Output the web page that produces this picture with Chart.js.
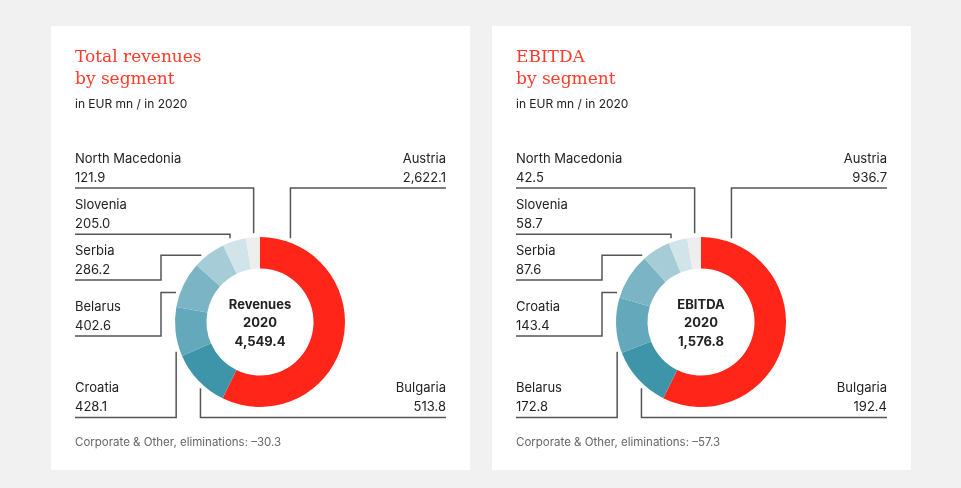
<!DOCTYPE html>
<html>
<head>
<meta charset="utf-8">
<script src="https://cdn.jsdelivr.net/npm/chart.js@4.4.1/dist/chart.umd.min.js"></script>
<style>
    html, body { margin: 0; padding: 0; }
    body { width: 961px; height: 488px; background: #f1f1f1; position: relative; overflow: hidden; font-family: Inter, "DejaVu Sans", sans-serif; color: #222; }
    .panel { position: absolute; top: 26px; width: 419px; height: 444px; background: #fff; }
    .panel canvas { position: absolute; left: 0; top: 0; }
    .title { position: absolute; left: 24px; top: 19px; font-family: "DejaVu Serif", serif; font-size: 17px; line-height: 22px; color: #ff3b2b; }
    .subtitle { position: absolute; left: 24px; top: 72px; font-size: 12px; line-height: 12px; }
    .label { position: absolute; font-size: 13px; line-height: 19px; white-space: nowrap; }
    .label.left { left: 24px; }
    .label.right { right: 24px; text-align: right; }
    .center { position: absolute; width: 120px; text-align: center; font-size: 13px; font-weight: 700; line-height: 18.5px; }
    .footer { position: absolute; left: 24px; top: 410px; font-size: 11.5px; line-height: 12px; color: #666; }
</style>
</head>
<body>
<div class="panel" id="revenue-panel" style="left:51px"></div>
<div class="panel" id="ebitda-panel" style="left:492px"></div>
<script>
document.addEventListener("DOMContentLoaded", () => {
    const revenueNames = ["Austria", "Bulgaria", "Croatia", "Belarus", "Serbia", "Slovenia", "North Macedonia"];
    const revenueValues = [2622.1, 513.8, 428.1, 402.6, 286.2, 205.0, 121.9];
    const revenueTotal = 4549.4;
    const revenueOther = -30.3;

    const ebitdaNames = ["Austria", "Bulgaria", "Belarus", "Croatia", "Serbia", "Slovenia", "North Macedonia"];
    const ebitdaValues = [936.7, 192.4, 172.8, 143.4, 87.6, 58.7, 42.5];
    const ebitdaTotal = 1576.8;
    const ebitdaOther = -57.3;

    const segmentColors = ["#ff2519", "#3e95aa", "#63a8bb", "#7bb4c5", "#a6ccd7", "#d1e4ea", "#eeeeee"];

    // where each segment's label sits (panel px) and how its leader reaches the ring
    const slots = [
        { side: "right", y: 137, angle: 20, path: "v" },
        { side: "right", y: 366.5, angle: 222, path: "v" },
        { side: "left", y: 366.5, angle: 250.4, path: "v" },
        { side: "left", y: 285, angle: 289.3, path: "hv", elbow: 110 },
        { side: "left", y: 229, angle: 318.7, path: "hv", elbow: 110 },
        { side: "left", y: 183.3, angle: 340.3, path: "v" },
        { side: "left", y: 137, angle: 355.9, path: "v" }
    ];

    const fmt = v => v.toLocaleString("en-US", { minimumFractionDigits: 1, maximumFractionDigits: 1 });

    const leaderLines = {
        id: "leaderLines",
        afterDraw(chart) {
            const arc = chart.getDatasetMeta(0).data[0];
            const r = arc.outerRadius + 4;
            const ctx = chart.ctx;
            ctx.save();
            ctx.strokeStyle = "#555";
            ctx.lineWidth = 1.5;
            slots.forEach(s => {
                const a = s.angle * Math.PI / 180;
                const ax = arc.x + r * Math.sin(a);
                const ay = arc.y - r * Math.cos(a);
                const ly = s.y + 25;
                const edge = s.side === "left" ? 24 : 395;
                ctx.beginPath();
                ctx.moveTo(ax, ay);
                if (s.path === "hv") {
                    ctx.lineTo(s.elbow, ay);
                    ctx.lineTo(s.elbow, ly);
                } else {
                    ctx.lineTo(ax, ly);
                }
                ctx.lineTo(edge, ly);
                ctx.stroke();
            });
            ctx.restore();
        }
    };

    function buildPanel(panel, title, centerName, names, values, total, other) {
        panel.innerHTML = `
            <canvas width="419" height="444"></canvas>
            <div class="title">${title}</div>
            <div class="subtitle">in EUR mn / in 2020</div>
            <div class="center" style="left:149px;top:268.5px">${centerName}<br>2020<br>${fmt(total)}</div>
            <div class="footer">Corporate &amp; Other, eliminations: –${fmt(Math.abs(other))}</div>
        `;
        names.forEach((name, i) => {
            const s = slots[i];
            const div = document.createElement("div");
            div.className = "label " + s.side;
            div.style.top = (s.y - 14.2) + "px";
            div.innerHTML = `${name}<br>${fmt(values[i])}`;
            panel.appendChild(div);
        });

        new Chart(panel.querySelector("canvas").getContext("2d"), {
            type: "doughnut",
            data: {
                labels: names,
                datasets: [{
                    data: values,
                    backgroundColor: segmentColors,
                    borderWidth: 0
                }]
            },
            options: {
                responsive: false,
                animation: false,
                cutout: "63%",
                layout: { padding: { left: 124, right: 125, top: 211, bottom: 63 } },
                plugins: { legend: { display: false }, tooltip: { enabled: false } }
            },
            plugins: [leaderLines]
        });
    }

    buildPanel(document.getElementById("revenue-panel"), "Total revenues<br>by segment", "Revenues",
        revenueNames, revenueValues, revenueTotal, revenueOther);
    buildPanel(document.getElementById("ebitda-panel"), "EBITDA<br>by segment", "EBITDA",
        ebitdaNames, ebitdaValues, ebitdaTotal, ebitdaOther);
});
</script>
</body>
</html>
